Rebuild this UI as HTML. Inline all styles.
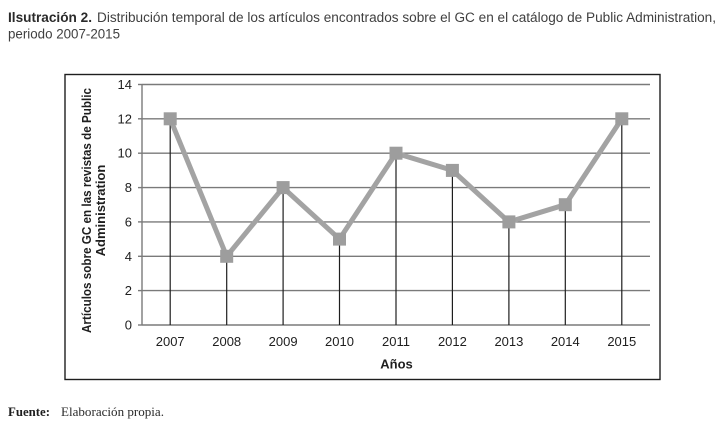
<!DOCTYPE html>
<html>
<head>
<meta charset="utf-8">
<style>
  html,body{margin:0;padding:0;background:#fff;}
  svg{display:block;}
  text{font-family:"Liberation Sans", sans-serif;}
</style>
</head>
<body>
<svg width="724" height="435" viewBox="0 0 724 435" xmlns="http://www.w3.org/2000/svg">
  <rect x="0" y="0" width="724" height="435" fill="#fff"/>

  <!-- Title -->
  <text x="8" y="22" font-size="13.5" font-weight="bold" fill="#2a2a2a" textLength="84" lengthAdjust="spacingAndGlyphs">Ilsutración 2.</text>
  <text x="97" y="22" font-size="13.5" fill="#404040" textLength="619" lengthAdjust="spacingAndGlyphs">Distribución temporal de los artículos encontrados sobre el GC en el catálogo de Public Administration,</text>
  <text x="8" y="38.5" font-size="13.5" fill="#404040" textLength="112" lengthAdjust="spacingAndGlyphs">periodo 2007-2015</text>

  <!-- Chart border -->
  <rect x="65" y="74.5" width="595" height="305" fill="none" stroke="#1e1e1e" stroke-width="1.4"/>

  <!-- Gridlines -->
  <g stroke="#7a7a7a" stroke-width="1.4">
    <line x1="142" y1="84.5" x2="650" y2="84.5"/>
    <line x1="142" y1="118.8" x2="650" y2="118.8"/>
    <line x1="142" y1="153.2" x2="650" y2="153.2"/>
    <line x1="142" y1="187.6" x2="650" y2="187.6"/>
    <line x1="142" y1="221.9" x2="650" y2="221.9"/>
    <line x1="142" y1="256.3" x2="650" y2="256.3"/>
    <line x1="142" y1="290.6" x2="650" y2="290.6"/>
    <line x1="142" y1="325" x2="650" y2="325"/>
  </g>
  <!-- Y axis + ticks -->
  <g stroke="#7a7a7a" stroke-width="1.4">
    <line x1="142" y1="84.5" x2="142" y2="325"/>
    <line x1="138" y1="84.5" x2="142" y2="84.5"/>
    <line x1="138" y1="118.8" x2="142" y2="118.8"/>
    <line x1="138" y1="153.2" x2="142" y2="153.2"/>
    <line x1="138" y1="187.6" x2="142" y2="187.6"/>
    <line x1="138" y1="221.9" x2="142" y2="221.9"/>
    <line x1="138" y1="256.3" x2="142" y2="256.3"/>
    <line x1="138" y1="290.6" x2="142" y2="290.6"/>
    <line x1="138" y1="325" x2="142" y2="325"/>
  </g>

  <!-- Y tick labels -->
  <g font-size="13" fill="#1e1e1e" text-anchor="end">
    <text x="132" y="89">14</text>
    <text x="132" y="123.3">12</text>
    <text x="132" y="157.7">10</text>
    <text x="132" y="192.1">8</text>
    <text x="132" y="226.4">6</text>
    <text x="132" y="260.8">4</text>
    <text x="132" y="295.1">2</text>
    <text x="132" y="329.5">0</text>
  </g>

  <!-- Drop lines -->
  <g stroke="#1e1e1e" stroke-width="1.2">
    <line x1="170.2" y1="118.8" x2="170.2" y2="325"/>
    <line x1="226.7" y1="256.3" x2="226.7" y2="325"/>
    <line x1="283.1" y1="187.6" x2="283.1" y2="325"/>
    <line x1="339.5" y1="239.1" x2="339.5" y2="325"/>
    <line x1="396" y1="153.2" x2="396" y2="325"/>
    <line x1="452.4" y1="170.4" x2="452.4" y2="325"/>
    <line x1="508.9" y1="221.9" x2="508.9" y2="325"/>
    <line x1="565.3" y1="204.7" x2="565.3" y2="325"/>
    <line x1="621.8" y1="118.8" x2="621.8" y2="325"/>
  </g>

  <!-- Series line -->
  <polyline fill="none" stroke="#a3a3a3" stroke-width="5" stroke-linejoin="miter"
    points="170.2,118.8 226.7,256.3 283.1,187.6 339.5,239.1 396,153.2 452.4,170.4 508.9,221.9 565.3,204.7 621.8,118.8"/>

  <!-- Markers -->
  <g fill="#9d9d9d">
    <rect x="163.7" y="112.3" width="13" height="13"/>
    <rect x="220.2" y="249.8" width="13" height="13"/>
    <rect x="276.6" y="181.1" width="13" height="13"/>
    <rect x="333" y="232.6" width="13" height="13"/>
    <rect x="389.5" y="146.7" width="13" height="13"/>
    <rect x="445.9" y="163.9" width="13" height="13"/>
    <rect x="502.4" y="215.4" width="13" height="13"/>
    <rect x="558.8" y="198.2" width="13" height="13"/>
    <rect x="615.3" y="112.3" width="13" height="13"/>
  </g>

  <!-- X labels -->
  <g font-size="13" fill="#1e1e1e" text-anchor="middle">
    <text x="170.2" y="346">2007</text>
    <text x="226.7" y="346">2008</text>
    <text x="283.1" y="346">2009</text>
    <text x="339.5" y="346">2010</text>
    <text x="396" y="346">2011</text>
    <text x="452.4" y="346">2012</text>
    <text x="508.9" y="346">2013</text>
    <text x="565.3" y="346">2014</text>
    <text x="621.8" y="346">2015</text>
  </g>
  <text x="396.5" y="368.5" font-size="13" font-weight="bold" fill="#1e1e1e" text-anchor="middle">Años</text>

  <!-- Y axis title -->
  <text transform="translate(91,210.5) rotate(-90)" font-size="13" font-weight="bold" fill="#1e1e1e" text-anchor="middle" textLength="245" lengthAdjust="spacingAndGlyphs">Artículos sobre GC en las revistas de Public</text>
  <text transform="translate(105,210.5) rotate(-90)" font-size="13" font-weight="bold" fill="#1e1e1e" text-anchor="middle">Administration</text>

  <!-- Source -->
  <text x="8" y="416" font-family="Liberation Serif, serif" font-size="13" font-weight="bold" fill="#1e1e1e" textLength="42" lengthAdjust="spacingAndGlyphs" style="font-family:'Liberation Serif',serif">Fuente:</text>
  <text x="61" y="416" font-size="13" fill="#2a2a2a" textLength="103" lengthAdjust="spacingAndGlyphs" style="font-family:'Liberation Serif',serif">Elaboración propia.</text>
</svg>
</body>
</html>
